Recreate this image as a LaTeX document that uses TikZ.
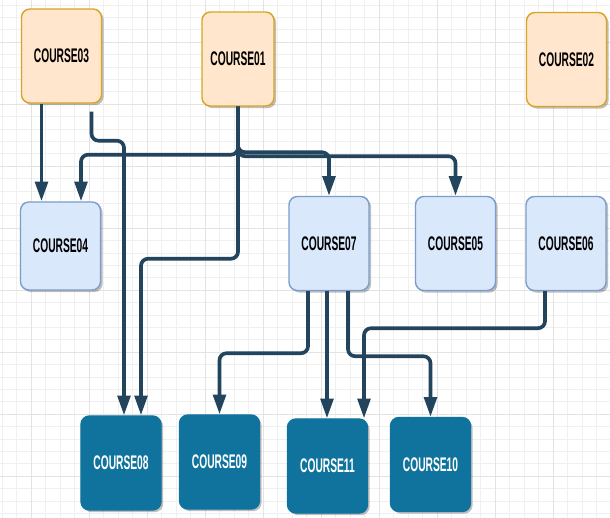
\documentclass[tikz,border=0pt]{standalone}
\usepackage{fontspec}
\newfontfamily\coursefont[FakeStretch=0.52]{Liberation Sans}
\usepackage{tikz}
\usetikzlibrary{arrows.meta}
\usetikzlibrary{calc}
\usetikzlibrary{shadows}
\definecolor{linkblue}{HTML}{23445D}
\definecolor{coreline}{HTML}{D9A521}
\definecolor{corefill}{HTML}{FFE6CC}
\definecolor{midline}{HTML}{7D9CCB}
\definecolor{midfill}{HTML}{DAE8FC}
\definecolor{leaffill}{HTML}{10739E}
\tikzstyle{course}=[rounded corners=6pt,line width=1pt,minimum width=2cm,minimum height=2.35cm,inner sep=0pt,font=\coursefont\bfseries\fontsize{14}{16}\selectfont,drop shadow={shadow xshift=1.5pt,shadow yshift=-1.5pt,fill=black,opacity=.25}]
\tikzstyle{link}=[draw=linkblue,line width=2.6pt,rounded corners=5pt,-{Triangle[length=14pt,width=9pt]}]

\begin{document}
\begin{tikzpicture}[
  x=0.025cm, y=-0.025cm,
  core/.style={course,fill=corefill,draw=coreline},
  mid/.style={course,fill=midfill,draw=midline},
  leaf/.style={course,fill=leaffill,draw=leaffill,text=white},
]
\useasboundingbox (0,0) rectangle (610,518);
\fill[white] (0,0) rectangle (610,518);
% grid
\foreach \x in {2.0,16.5,...,610} \draw[black!6,line width=.4pt] (\x,0) -- (\x,518);
\foreach \y in {4.8,17.2,...,518} \draw[black!6,line width=.4pt] (0,\y) -- (610,\y);
\foreach \x in {31,89,...,610} \draw[black!11,line width=.6pt] (\x,0) -- (\x,518);
\foreach \y in {42,104,...,518} \draw[black!11,line width=.6pt] (0,\y) -- (610,\y);

\node[core] (c03) at (61.5,56) {COURSE03};
\node[core,minimum width=1.8cm] (c01) at (238,59) {COURSE01};
\node[core] (c02) at (566.5,59.5) {COURSE02};
\node[mid,minimum height=2.2cm] (c04) at (60.5,246) {COURSE04};
\node[mid] (c07) at (329,243.5) {COURSE07};
\node[mid] (c05) at (455.5,243.5) {COURSE05};
\node[mid] (c06) at (566,243.5) {COURSE06};
\node[leaf] (c08) at (121,463) {COURSE08};
\node[leaf] (c09) at (219.5,462) {COURSE09};
\node[leaf] (c11) at (327.5,466) {COURSE11};
\node[leaf] (c10) at (430.5,464.5) {COURSE10};

\coordinate (s1) at ($(c03.south)+(-20,0)$);
\draw[link] (s1) -- (s1 |- c04.north);
\coordinate (s2) at ($(c03.south)+(30,8)$);
\draw[link] (s2) -- ++(0,29) -| ($(c08.north)+(3,0)$);
\draw[link] (c01.south) -- ++(0,152) -| ($(c08.north)+(20,0)$);
\draw[link] (c01.south) -- ++(0,48) -| ($(c04.north)+(20.5,0)$);
\draw[link] (c01.south) -- ++(0,45.5) -| (c07.north);
\draw[link] (c01.south) -- ++(0,49.5) -| (c05.north);

\draw[link] ($(c07.south)+(-21,0)$) -- ++(0,62) -| (c09.north);
\coordinate (s7) at ($(c07.south)+(-2,0)$);
\draw[link] (s7) -- (s7 |- c11.north);
\draw[link] ($(c07.south)+(19,0)$) -- ++(0,65) -| (c10.north);
\draw[link] ($(c06.south)+(-21,0)$) -- ++(0,37) -| ($(c11.north)+(36.5,0)$);
\end{tikzpicture}
\end{document}
